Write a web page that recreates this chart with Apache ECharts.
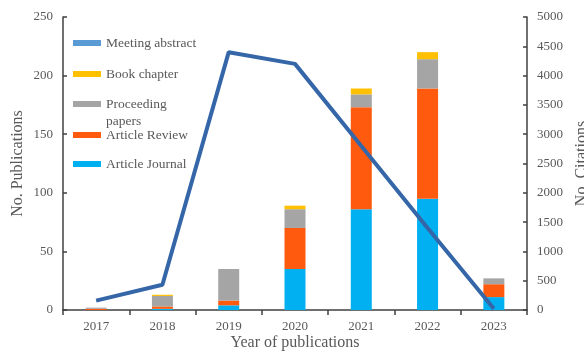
<!DOCTYPE html>
<html>
<head>
<meta charset="utf-8">
<script src="https://cdn.jsdelivr.net/npm/echarts@6/dist/echarts.min.js"></script>
<style>html,body{margin:0;padding:0;background:#fff}#c{width:584px;height:351px}</style>
</head>
<body>
<div id="c"></div>
<script>
const years = ['2017','2018','2019','2020','2021','2022','2023'];
const articleJournal = [0, 1, 4, 35, 86, 95, 11];
const articleReview = [1, 2, 4, 35, 87, 94, 11];
const proceedingPapers = [1, 9, 27, 16, 11, 25, 5];
const bookChapter = [0, 1, 0, 3, 5, 6, 0];
const meetingAbstract = [0, 0, 0, 0, 0, 0, 0];
const citations = [160, 430, 4400, 4200, 2800, 1400, 20];
const pubTicks = [0, 50, 100, 150, 200, 250];
const citeTicks = [0, 500, 1000, 1500, 2000, 2500, 3000, 3500, 4000, 4500, 5000];

const FONT = "'Liberation Serif','Times New Roman',serif";
const TXT = '#595959';
const AX = '#404040';
const colors = {
  'Article Journal': '#00B0F0',
  'Article Review': '#FF5A0E',
  'Proceeding papers': '#A5A5A5',
  'Book chapter': '#FFC000',
  'Meeting abstract': '#5B9BD5'
};

function bar(name, data) {
  return { name, type: 'bar', stack: 'pub', data, barWidth: 21,
    itemStyle: { color: colors[name] }, yAxisIndex: 0 };
}
const legendNames = ['Meeting abstract','Book chapter','Proceeding papers','Article Review','Article Journal'];
const legendCenters = [43, 74, 104, 135, 164];
const legends = legendNames.map((n, i) => ({
  data: [n], orient: 'vertical', left: 73, top: legendCenters[i] - 7,
  padding: 0, itemWidth: 28, itemHeight: 6, itemGap: 5, icon: 'rect',
  selectedMode: false,
  formatter: n === 'Proceeding papers' ? 'Proceeding' : '{name}',
  textStyle: { fontFamily: FONT, fontSize: 13.5, color: TXT, lineHeight: 14 }
}));

const chart = echarts.init(document.getElementById('c'));
chart.setOption({
  animation: false,
  grid: { left: 63, right: 57, top: 17, bottom: 41, containLabel: false, outerBoundsMode: 'none' },
  legend: legends,
  graphic: [{ type: 'text', left: 106, top: 114,
    style: { text: 'papers', font: "13.5px 'Liberation Serif','Times New Roman',serif", fill: TXT } }],
  xAxis: {
    type: 'category', data: years,
    name: 'Year of publications', nameLocation: 'middle', nameGap: 25, nameMoveOverlap: false,
    nameTextStyle: { fontFamily: FONT, fontSize: 16, color: TXT },
    axisLine: { lineStyle: { color: AX, width: 1.5 } },
    axisTick: { show: true, length: 5, lineStyle: { color: AX, width: 1.5 } },
    axisLabel: { fontFamily: FONT, fontSize: 13, color: TXT, margin: 10 }
  },
  yAxis: [{
    type: 'value', min: pubTicks[0], max: pubTicks[pubTicks.length-1], interval: 50,
    name: 'No. Publications', nameLocation: 'middle', nameGap: 37, nameMoveOverlap: false,
    nameTextStyle: { fontFamily: FONT, fontSize: 16, color: TXT },
    splitLine: { show: false },
    axisLine: { show: true, lineStyle: { color: AX, width: 1.5 } },
    axisTick: { show: true, inside: true, length: 4, lineStyle: { color: AX, width: 1.5 } },
    axisLabel: { fontFamily: FONT, fontSize: 13, color: TXT, margin: 10 }
  }, {
    type: 'value', min: citeTicks[0], max: citeTicks[citeTicks.length-1], interval: 500,
    position: 'right',
    name: 'No. Citations', nameLocation: 'middle', nameGap: 46,
    nameTextStyle: { fontFamily: FONT, fontSize: 16, color: TXT },
    splitLine: { show: false },
    axisLine: { show: true, lineStyle: { color: AX, width: 1.5 } },
    axisTick: { show: true, inside: true, length: 4, lineStyle: { color: AX, width: 1.5 } },
    axisLabel: { fontFamily: FONT, fontSize: 13, color: TXT, margin: 10, formatter: v => String(v) }
  }],
  series: [
    bar('Article Journal', articleJournal),
    bar('Article Review', articleReview),
    bar('Proceeding papers', proceedingPapers),
    bar('Book chapter', bookChapter),
    bar('Meeting abstract', meetingAbstract),
    { name: 'Citations', type: 'line', yAxisIndex: 1, data: citations,
      symbol: 'none', lineStyle: { color: '#3566A8', width: 4 }, z: 5 }
  ]
});
</script>
</body>
</html>
